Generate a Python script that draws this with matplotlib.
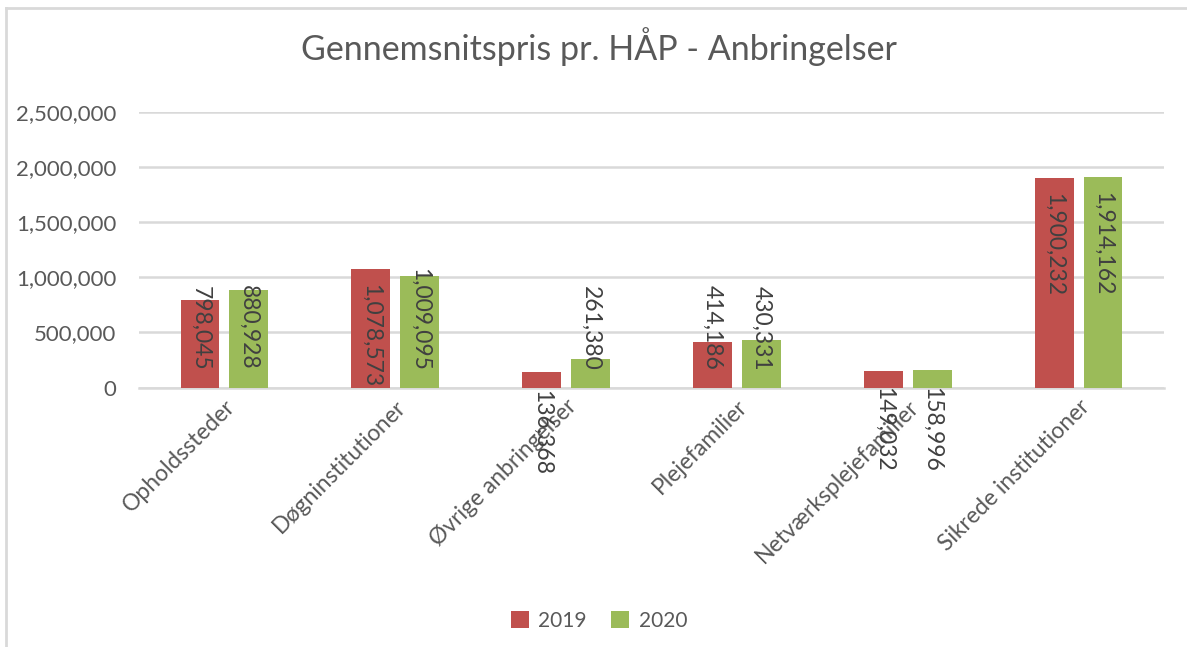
import matplotlib
matplotlib.use("Agg")
import matplotlib.pyplot as plt
from matplotlib.lines import Line2D
from matplotlib.patches import Patch
import numpy as np

categories = ["Opholdssteder", "Døgninstitutioner", "Øvrige anbringelser",
              "Plejefamilier", "Netværksplejefamilier", "Sikrede institutioner"]
values_2019 = [798045, 1078573, 136368, 414186, 149032, 1900232]
values_2020 = [880928, 1009095, 261380, 430331, 158996, 1914162]
series_names = ["2019", "2020"]
yticks = [0, 500000, 1000000, 1500000, 2000000, 2500000]

# label centre positions (layout, mimicking the reference's placement)
label_centers_2019 = [541000, 468000, -405000, 541000, -382000, 1295000]
label_centers_2020 = [550000, 618000, 541000, 541000, -382000, 1305000]

RED = "#C0504D"
GREEN = "#9BBB59"
TXT = "#595959"
GRID = "#D9D9D9"

plt.rcParams['font.family'] = ['Lato', 'DejaVu Sans']

W, H = 1187, 647
fig = plt.figure(figsize=(W / 100, H / 100), dpi=100)
ax = fig.add_axes([139 / W, (H - 387.5) / H, (1164 - 139) / W, (387.5 - 112) / H])

x = np.arange(len(categories))
bw = 0.228
off = 0.143
ax.bar(x - off, values_2019, bw, color=RED, zorder=3)
ax.bar(x + off, values_2020, bw, color=GREEN, zorder=3)

for i in range(len(categories)):
    ax.text(x[i] - off, label_centers_2019[i], f"{values_2019[i]:,}", rotation=270,
            ha='center', va='center', fontsize=16.5, color="#404040", zorder=5, clip_on=False)
    ax.text(x[i] + off, label_centers_2020[i], f"{values_2020[i]:,}", rotation=270,
            ha='center', va='center', fontsize=16.5, color="#404040", zorder=5, clip_on=False)

ax.set_xlim(-0.5, len(categories) - 0.5)
ax.set_ylim(0, 2500000)
ax.set_yticks(yticks)
ax.set_yticklabels([f"{v:,}" for v in yticks], fontsize=16, color=TXT)
ax.yaxis.grid(True, color=GRID, linewidth=1.8, zorder=0)
ax.tick_params(axis='y', length=0, pad=16.5)
ax.tick_params(axis='x', length=0, pad=6)
ax.set_xticks(x)
ax.set_xticklabels(categories, rotation=45, ha='right', va='top',
                   rotation_mode='anchor', fontsize=16.5, color=TXT)
for s in ['top', 'right', 'left']:
    ax.spines[s].set_visible(False)
ax.spines['bottom'].set_color(GRID)
ax.spines['bottom'].set_linewidth(1.8)

fig.text(599 / W, 1 - 47 / H, "Gennemsnitspris pr. HÅP - Anbringelser",
         ha='center', va='center', fontsize=24.5, color=TXT)

handles = [Patch(facecolor=RED), Patch(facecolor=GREEN)]
fig.legend(handles, series_names, loc='center', bbox_to_anchor=(599 / W, 1 - 621 / H),
           ncol=2, frameon=False, fontsize=15, labelcolor=TXT,
           handlelength=0.85, handleheight=0.85, handletextpad=0.45, columnspacing=1.2)

# chart-area border (top and left edges visible in reference)
fig.add_artist(Line2D([6 / W, 1.0], [1 - 7.5 / H, 1 - 7.5 / H], color=GRID, linewidth=2,
                      transform=fig.transFigure))
fig.add_artist(Line2D([6 / W, 6 / W], [0, 1 - 7.5 / H], color=GRID, linewidth=2,
                      transform=fig.transFigure))

fig.savefig("out.png", dpi=100)
